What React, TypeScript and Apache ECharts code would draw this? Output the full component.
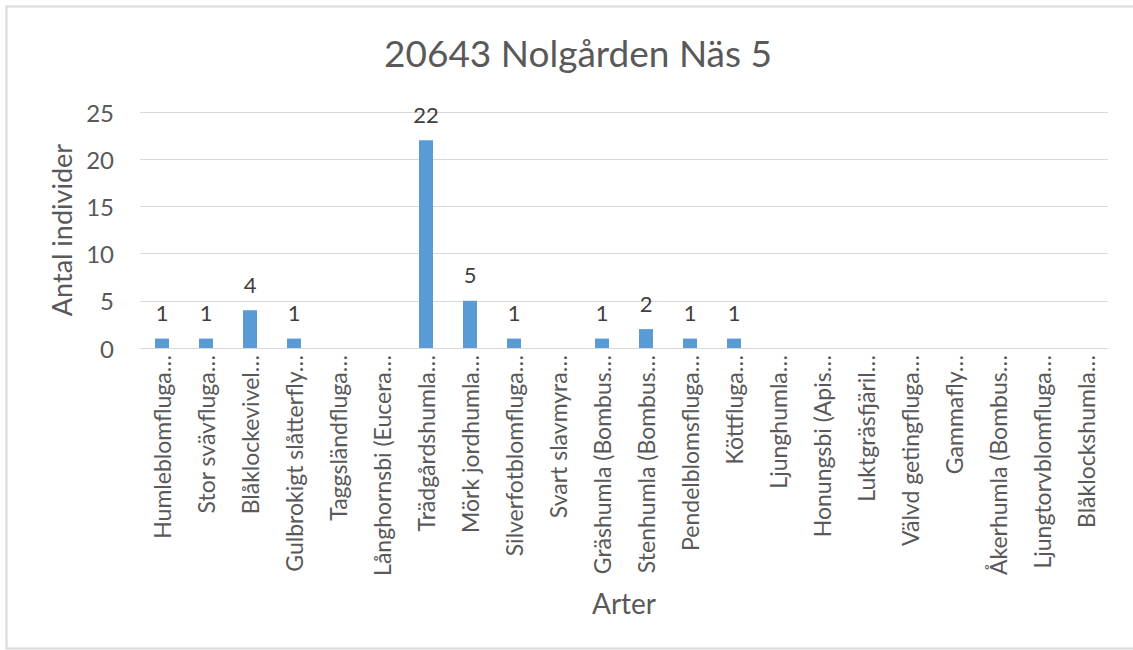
import React, { useEffect, useRef } from "react";
import * as echarts from "echarts";

const chartTitle = "20643 Nolgården Näs 5";
const categories = [
  "Humleblomfluga…",
  "Stor svävfluga…",
  "Blåklockevivel…",
  "Gulbrokigt slåtterfly…",
  "Taggsländfluga…",
  "Långhornsbi (Eucera…",
  "Trädgårdshumla…",
  "Mörk jordhumla…",
  "Silverfotblomfluga…",
  "Svart slavmyra…",
  "Gräshumla (Bombus…",
  "Stenhumla (Bombus…",
  "Pendelblomsfluga…",
  "Köttfluga…",
  "Ljunghumla…",
  "Honungsbi (Apis…",
  "Luktgräsfjäril…",
  "Välvd getingfluga…",
  "Gammafly…",
  "Åkerhumla (Bombus…",
  "Ljungtorvblomfluga…",
  "Blåklockshumla…",
];
const values = [1, 1, 4, 1, 0, 0, 22, 5, 1, 0, 1, 2, 1, 1, 0, 0, 0, 0, 0, 0, 0, 0];
const yAxisName = "Antal individer";
const xAxisName = "Arter";

const FONT = "Lato, 'Open Sans', sans-serif";

export default function App() {
  const ref = useRef<HTMLDivElement>(null);
  useEffect(() => {
    if (!ref.current) return;
    const chart = echarts.init(ref.current, undefined, { renderer: "svg" });
    chart.setOption({
      animation: false,
      backgroundColor: "#ffffff",
      textStyle: { fontFamily: FONT },
      title: {
        text: chartTitle,
        left: 379,
        top: 29,
        textStyle: { fontSize: 37, fontWeight: "normal", color: "#595959", fontFamily: FONT },
      },
      graphic: [
        {
          type: "rect",
          shape: { x: 6.5, y: 6.5, width: 1140, height: 642 },
          style: { fill: "none", stroke: "#d9d9d9", lineWidth: 2 },
          silent: true,
        },
      ],
      grid: { left: 140, right: 25, top: 112, bottom: 302, containLabel: false },
      xAxis: {
        type: "category",
        data: categories,
        name: xAxisName,
        nameLocation: "middle",
        nameGap: 241,
        nameTextStyle: { fontSize: 28, color: "#595959", fontFamily: FONT },
        axisLine: { lineStyle: { color: "#d9d9d9", width: 1 } },
        axisTick: { show: false },
        axisLabel: {
          rotate: 90,
          interval: 0,
          fontSize: 23,
          color: "#595959",
          margin: 7,
          fontFamily: FONT,
        },
      },
      yAxis: {
        type: "value",
        min: 0,
        max: 25,
        interval: 5,
        name: yAxisName,
        nameLocation: "middle",
        nameGap: 64,
        nameTextStyle: { fontSize: 27, color: "#595959", fontFamily: FONT },
        axisLine: { show: false },
        axisTick: { show: false },
        splitLine: { lineStyle: { color: "#d9d9d9", width: 1 } },
        axisLabel: { fontSize: 24, color: "#595959", margin: 26, fontFamily: FONT },
      },
      series: [
        {
          type: "bar",
          data: values,
          barWidth: 14,
          itemStyle: { color: "#5B9BD5" },
          label: {
            show: true,
            position: "top",
            distance: 15,
            fontSize: 22,
            color: "#404040",
            fontFamily: FONT,
            formatter: (p: any) => (p.value > 0 ? String(p.value) : ""),
          },
        },
      ],
    });
    return () => chart.dispose();
  }, []);
  return (
    <div
      ref={ref}
      style={{ position: "fixed", left: 0, top: 0, width: 1133, height: 650 }}
    />
  );
}
